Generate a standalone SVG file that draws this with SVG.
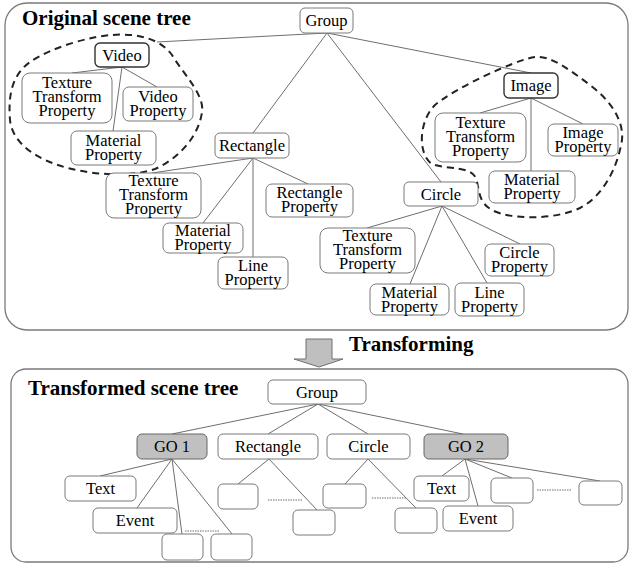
<svg xmlns="http://www.w3.org/2000/svg" width="630" height="564" viewBox="0 0 630 564">
<style>
.panel{fill:#fff;stroke:#7a7a7a;stroke-width:1.3}
.n{fill:#fff;stroke:#7a7a7a;stroke-width:1}
.nk{fill:#fff;stroke:#333;stroke-width:1.4}
.ng{fill:#c0c0c0;stroke:#666;stroke-width:1}
.t{font-family:"Liberation Serif","Times New Roman",serif;font-size:16.5px;fill:#000;text-anchor:middle}
.h{font-family:"Liberation Serif","Times New Roman",serif;font-size:21px;font-weight:bold;fill:#000}
.c line{stroke:#6e6e6e;stroke-width:1}
.dash{fill:none;stroke:#222;stroke-width:2;stroke-dasharray:7,5}
.dot{stroke:#333;stroke-width:1.5;stroke-dasharray:1.5,1}
</style>
<rect class="panel" x="5" y="3" width="623" height="327" rx="22"/>
<rect class="panel" x="11" y="369" width="617" height="193" rx="15"/>
<text class="h" x="22" y="25">Original scene tree</text>
<text class="h" x="28" y="395">Transformed scene tree</text>
<text class="h" x="349" y="351">Transforming</text>
<polygon id="arrow" points="306,339 332,339 332,359 343,359 319,367 294,359 306,359" fill="#bfbfbf" stroke="#707070" stroke-width="1"/>

<path class="dash" d="M113,35 C135,33 160,38 172,55 C182,72 205,95 202,112 C199,135 180,158 155,169 C130,178 85,175 55,164 C30,155 12,140 10,120 C8,95 12,75 30,62 C50,48 90,36 113,35 Z"/>
<path class="dash" d="M535,57 C515,60 455,88 435,105 C418,122 418,155 432,164 C450,170 470,166 476,178 C480,192 478,202 492,210 C510,220 555,220 580,208 C605,195 618,165 622,140 C624,120 610,100 590,85 C570,70 550,55 535,57 Z"/>

<g id="connectors" class="c">
<line x1="327" y1="33" x2="157" y2="42"/>
<line x1="327" y1="33" x2="253" y2="133"/>
<line x1="327" y1="33" x2="441" y2="182"/>
<line x1="327" y1="33" x2="531" y2="73"/>
<line x1="122" y1="67" x2="72" y2="73"/>
<line x1="122" y1="67" x2="157" y2="87"/>
<line x1="122" y1="67" x2="113" y2="131"/>
<line x1="253" y1="158" x2="152" y2="173"/>
<line x1="253" y1="158" x2="203" y2="223"/>
<line x1="253" y1="158" x2="253" y2="257"/>
<line x1="253" y1="158" x2="308" y2="184"/>
<line x1="442" y1="206" x2="367" y2="228"/>
<line x1="442" y1="206" x2="410" y2="284"/>
<line x1="442" y1="206" x2="487" y2="283"/>
<line x1="442" y1="206" x2="520" y2="244"/>
<line x1="531" y1="98" x2="480" y2="113"/>
<line x1="531" y1="98" x2="531" y2="171"/>
<line x1="531" y1="98" x2="583" y2="124"/>
<line x1="318" y1="404" x2="172" y2="434"/>
<line x1="318" y1="404" x2="268" y2="434"/>
<line x1="318" y1="404" x2="368" y2="434"/>
<line x1="318" y1="404" x2="463" y2="434"/>
<line x1="172" y1="459" x2="100" y2="476"/>
<line x1="172" y1="459" x2="137" y2="508"/>
<line x1="172" y1="459" x2="182" y2="534"/>
<line x1="172" y1="459" x2="232" y2="534"/>
<line x1="269" y1="459" x2="238" y2="484"/>
<line x1="269" y1="459" x2="317" y2="510"/>
<line x1="368" y1="459" x2="345" y2="484"/>
<line x1="368" y1="459" x2="416" y2="508"/>
<line x1="465" y1="459" x2="442" y2="476"/>
<line x1="465" y1="459" x2="478" y2="506"/>
<line x1="465" y1="459" x2="512" y2="478"/>
<line x1="465" y1="459" x2="600" y2="481"/>
<line class="dot" x1="185" y1="531" x2="220" y2="531"/>
<line class="dot" x1="268" y1="500" x2="302" y2="500"/>
<line class="dot" x1="372" y1="498" x2="407" y2="498"/>
<line class="dot" x1="537" y1="490" x2="572" y2="490"/>
</g>

<g id="group"><rect class="n" x="300" y="8" width="53" height="25" rx="5"/><text class="t" x="326.5" y="26">Group</text></g>
<g id="video"><rect class="nk" x="95" y="43" width="54" height="24" rx="5"/><text class="t" x="122" y="60.5">Video</text></g>
<g id="v_ttp"><rect class="n" x="22" y="73" width="90" height="50" rx="8"/><text class="t" x="67" y="88">Texture</text><text class="t" x="67" y="102">Transform</text><text class="t" x="67" y="116">Property</text></g>
<g id="v_vp"><rect class="n" x="123" y="87" width="70" height="34" rx="6"/><text class="t" x="158" y="102">Video</text><text class="t" x="158" y="116">Property</text></g>
<g id="v_mp"><rect class="n" x="71" y="131" width="85" height="34" rx="6"/><text class="t" x="113.5" y="146">Material</text><text class="t" x="113.5" y="160">Property</text></g>

<g id="rectangle"><rect class="n" x="215" y="133" width="74" height="25" rx="5"/><text class="t" x="252" y="151">Rectangle</text></g>
<g id="r_ttp"><rect class="n" x="106" y="173" width="95" height="45" rx="8"/><text class="t" x="153.5" y="186">Texture</text><text class="t" x="153.5" y="200">Transform</text><text class="t" x="153.5" y="214">Property</text></g>
<g id="r_mp"><rect class="n" x="163" y="223" width="80" height="30" rx="6"/><text class="t" x="203" y="236">Material</text><text class="t" x="203" y="250">Property</text></g>
<g id="r_lp"><rect class="n" x="218" y="257" width="70" height="32" rx="6"/><text class="t" x="253" y="271">Line</text><text class="t" x="253" y="285">Property</text></g>
<g id="r_rp"><rect class="n" x="266" y="184" width="87" height="33" rx="6"/><text class="t" x="309.5" y="198">Rectangle</text><text class="t" x="309.5" y="212">Property</text></g>

<g id="circle"><rect class="n" x="404" y="182" width="74" height="24" rx="5"/><text class="t" x="441" y="199.5">Circle</text></g>
<g id="c_ttp"><rect class="n" x="320" y="228" width="95" height="45" rx="8"/><text class="t" x="367.5" y="241">Texture</text><text class="t" x="367.5" y="255">Transform</text><text class="t" x="367.5" y="269">Property</text></g>
<g id="c_mp"><rect class="n" x="370" y="284" width="79" height="31" rx="6"/><text class="t" x="409.5" y="298">Material</text><text class="t" x="409.5" y="312">Property</text></g>
<g id="c_lp"><rect class="n" x="455" y="283" width="69" height="33" rx="6"/><text class="t" x="489.5" y="298">Line</text><text class="t" x="489.5" y="312">Property</text></g>
<g id="c_cp"><rect class="n" x="485" y="244" width="69" height="32" rx="6"/><text class="t" x="519.5" y="258">Circle</text><text class="t" x="519.5" y="272">Property</text></g>

<g id="image"><rect class="nk" x="504" y="73" width="54" height="25" rx="5"/><text class="t" x="531" y="91">Image</text></g>
<g id="i_ttp"><rect class="n" x="435" y="113" width="91" height="49" rx="8"/><text class="t" x="480.5" y="128">Texture</text><text class="t" x="480.5" y="142">Transform</text><text class="t" x="480.5" y="156">Property</text></g>
<g id="i_ip"><rect class="n" x="548" y="124" width="70" height="32" rx="6"/><text class="t" x="583" y="138">Image</text><text class="t" x="583" y="152">Property</text></g>
<g id="i_mp"><rect class="n" x="489" y="171" width="86" height="32" rx="6"/><text class="t" x="532" y="185">Material</text><text class="t" x="532" y="199">Property</text></g>

<g id="b_group"><rect class="n" x="268" y="380" width="98" height="24" rx="5"/><text class="t" x="317" y="397.5">Group</text></g>
<g id="go1"><rect class="ng" x="137" y="434" width="70" height="25" rx="5"/><text class="t" x="172" y="452">GO 1</text></g>
<g id="b_rect"><rect class="n" x="218" y="434" width="100" height="25" rx="5"/><text class="t" x="268" y="452">Rectangle</text></g>
<g id="b_circle"><rect class="n" x="327" y="434" width="83" height="25" rx="5"/><text class="t" x="368.5" y="452">Circle</text></g>
<g id="go2"><rect class="ng" x="424" y="434" width="84" height="25" rx="5"/><text class="t" x="466" y="452">GO 2</text></g>

<g id="g1_text"><rect class="n" x="65" y="476" width="71" height="25" rx="5"/><text class="t" x="100.5" y="494">Text</text></g>
<g id="g1_event"><rect class="n" x="93" y="508" width="84" height="25" rx="5"/><text class="t" x="135" y="526">Event</text></g>
<g id="g1_b1"><rect class="n" x="162" y="534" width="41" height="26" rx="5"/></g>
<g id="g1_b2"><rect class="n" x="211" y="534" width="41" height="26" rx="5"/></g>
<g id="r_b1"><rect class="n" x="218" y="484" width="40" height="25" rx="5"/></g>
<g id="r_b2"><rect class="n" x="293" y="510" width="42" height="25" rx="5"/></g>
<g id="c_b1"><rect class="n" x="323" y="484" width="43" height="24" rx="5"/></g>
<g id="c_b2"><rect class="n" x="395" y="508" width="42" height="25" rx="5"/></g>
<g id="g2_text"><rect class="n" x="414" y="476" width="55" height="25" rx="5"/><text class="t" x="441.5" y="494">Text</text></g>
<g id="g2_event"><rect class="n" x="443" y="506" width="70" height="25" rx="5"/><text class="t" x="478" y="524">Event</text></g>
<g id="g2_b1"><rect class="n" x="491" y="478" width="42" height="25" rx="5"/></g>
<g id="g2_b2"><rect class="n" x="579" y="481" width="43" height="24" rx="5"/></g>
</svg>
